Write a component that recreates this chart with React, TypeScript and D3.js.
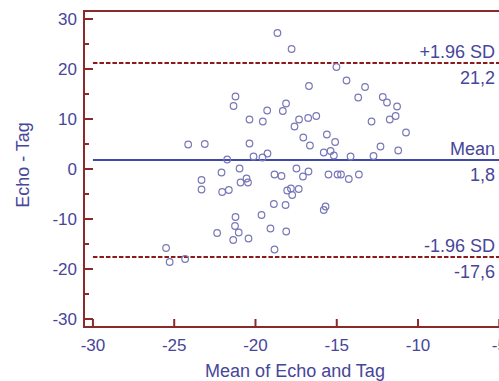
import * as d3 from "d3";

// Bland-Altman: mean of Echo and Tag vs. difference
const meanValues = [
  -18.65, -17.78, -15.02, -14.4, -16.71, -13.26, -13.68, -12.17, -11.91, -11.29,
  -11.38, -11.74, -12.86, -10.74, -19.28, -19.55, -18.12, -18.32, -17.6, -17.32,
  -16.76, -16.26, -17.06, -16.65, -15.61, -15.1, -15.8, -15.38, -15.18, -14.15,
  -12.74, -12.31, -11.22, -20.37, -20.37, -20.12, -19.57, -19.26, -21.74, -20.98,
  -22.09, -23.32, -24.14, -23.12, -21.23, -21.35, -20.92, -20.55, -20.46, -23.32,
  -22.05, -21.64, -18.83, -18.87, -19.63, -21.23, -21.26, -21.03, -22.36, -21.37,
  -20.43, -19.08, -18.83, -25.5, -25.28, -24.33, -18.4, -17.48, -17.08, -16.74,
  -15.51, -14.95, -14.74, -14.26, -13.64, -18.05, -17.82, -17.34, -17.74, -18.15,
  -15.69, -15.8, -18.11,
];
const diffValues = [
  27.2, 24.0, 20.4, 17.7, 16.6, 16.4, 14.3, 14.4, 13.3, 12.5,
  10.6, 9.9, 9.5, 7.3, 11.7, 9.5, 13.1, 11.6, 8.5, 9.9,
  10.2, 10.6, 6.3, 4.7, 6.9, 5.4, 3.3, 3.6, 2.7, 2.5,
  2.6, 4.5, 3.7, 5.1, 9.9, 2.5, 2.3, 3.1, 1.9, 0.1,
  -0.7, -2.2, 4.9, 5.0, 14.5, 12.6, -2.7, -1.9, -2.7, -4.1,
  -4.6, -4.2, -1.1, -7.0, -9.2, -9.6, -11.4, -12.7, -12.8, -14.2,
  -13.9, -11.9, -16.1, -15.8, -18.6, -18.0, -1.4, 0.1, -1.5, -0.5,
  -1.1, -1.1, -1.1, -2.0, -1.1, -4.3, -3.9, -4.0, -5.2, -7.2,
  -7.5, -8.2, -12.5,
];

const refLines = [
  { value: 21.2, top: "+1.96 SD", bottom: "21,2", kind: "sd" },
  { value: 1.8, top: "Mean", bottom: "1,8", kind: "mean" },
  { value: -17.6, top: "-1.96 SD", bottom: "-17,6", kind: "sd" },
];

const xTicks = [-30, -25, -20, -15, -10, -5];
const yTicks = [-30, -20, -10, 0, 10, 20, 30];
const yMinorTicks = [-25, -15, -5, 5, 15, 25];

const W = 499;
const H = 381;
const axisColor = "#8a2a2a";
const textColor = "#46469a";
const pointColor = "#7878b8";
const font = "'Liberation Sans', Arial, sans-serif";

export default function App() {
  const x = d3.scaleLinear().domain([-30.55, -4.65]).range([84, 505]);
  const y = d3.scaleLinear().domain([-31.6, 31.6]).range([327, 11]);
  const [x0, x1] = x.range();
  const [yb, yt] = y.range();

  return (
    <svg
      width={W}
      height={H}
      style={{ position: "absolute", left: 0, top: 0, background: "#fff" }}
      fontFamily={font}
    >
      {/* reference lines */}
      {refLines.map((r) => (
        <g key={r.top}>
          <line
            x1={x(-30)}
            x2={x1}
            y1={y(r.value)}
            y2={y(r.value)}
            stroke={r.kind === "mean" ? "#3e4aa6" : "#8b1a1a"}
            strokeWidth={2}
            strokeDasharray={r.kind === "mean" ? undefined : "4.5,2"}
          />
          <text x={495} y={y(r.value) - 5} textAnchor="end" fontSize={18} fill={textColor}>
            {r.top}
          </text>
          <text x={495} y={y(r.value) + 21} textAnchor="end" fontSize={18} fill={textColor}>
            {r.bottom}
          </text>
        </g>
      ))}

      {/* points */}
      <g fill="none" stroke={pointColor} strokeWidth={1.2}>
        {meanValues.map((m, i) => (
          <circle key={i} cx={x(m)} cy={y(diffValues[i])} r={3.3} />
        ))}
      </g>

      {/* frame */}
      <g stroke={axisColor} strokeWidth={2} fill="none">
        <line x1={x0} x2={x0} y1={yt} y2={yb} />
        <line x1={x0 - 1} x2={x1} y1={yb} y2={yb} />
        <line x1={x0 - 1} x2={x1} y1={yt} y2={yt} />
        {yTicks.map((t) => (
          <line key={"y" + t} x1={x0} x2={x0 + 9} y1={y(t)} y2={y(t)} />
        ))}
        {yMinorTicks.map((t) => (
          <line key={"ym" + t} x1={x0} x2={x0 + 5} y1={y(t)} y2={y(t)} />
        ))}
        {xTicks.map((t) => (
          <line key={"x" + t} x1={x(t)} x2={x(t)} y1={yb} y2={yb - 8} />
        ))}
      </g>

      {/* tick labels */}
      <g fontSize={17} fill={textColor}>
        {yTicks.map((t) => (
          <text key={"yl" + t} x={77} y={y(t)} dy="0.35em" textAnchor="end">
            {t}
          </text>
        ))}
        {xTicks.map((t) => (
          <text key={"xl" + t} x={x(t)} y={351} textAnchor="middle">
            {t}
          </text>
        ))}
      </g>

      {/* axis titles */}
      <text x={295} y={377} textAnchor="middle" fontSize={18} fill={textColor}>
        Mean of Echo and Tag
      </text>
      <text
        transform={`translate(29,165) rotate(-90)`}
        textAnchor="middle"
        fontSize={18}
        fill={textColor}
      >
        Echo - Tag
      </text>
    </svg>
  );
}
